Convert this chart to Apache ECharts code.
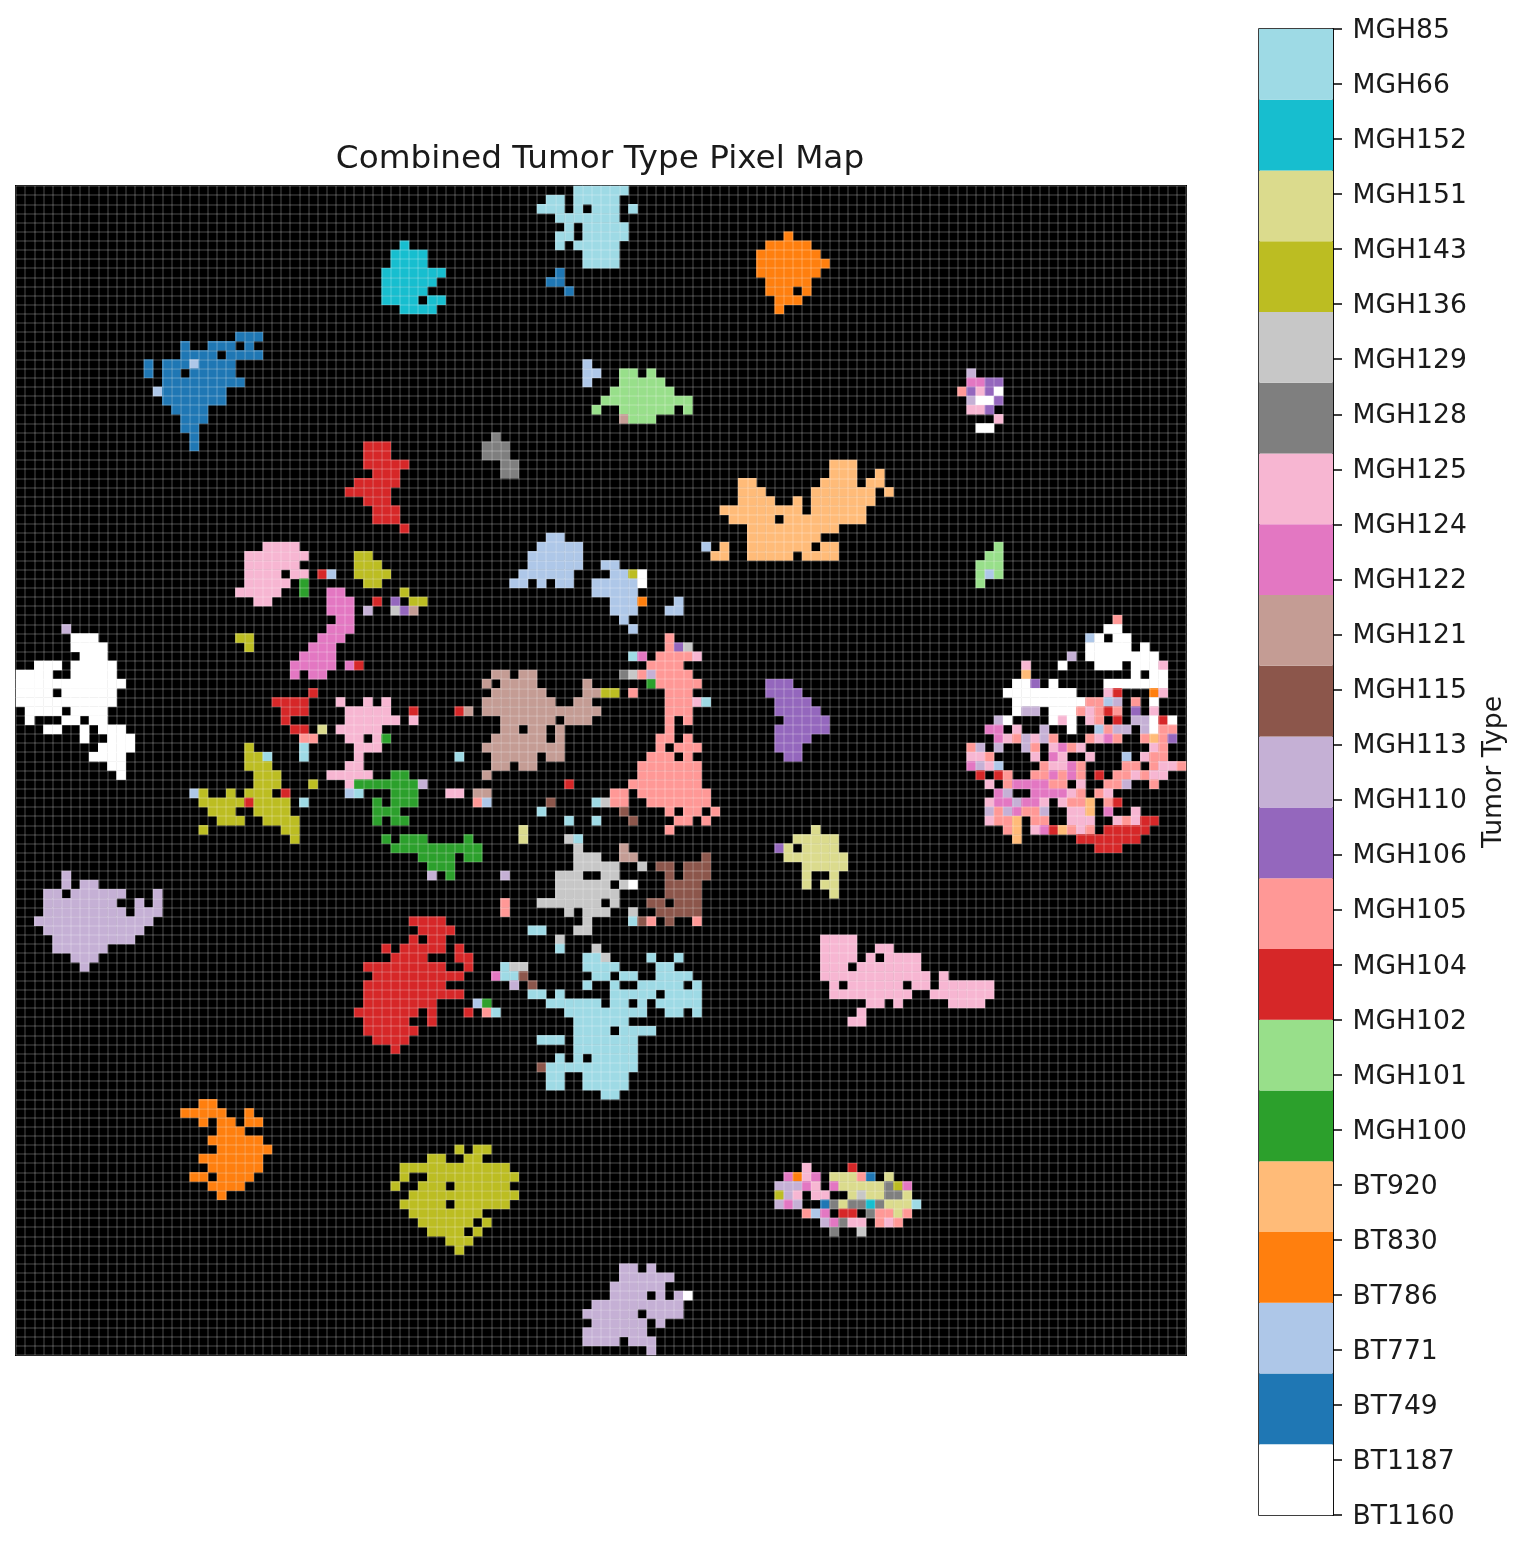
<!DOCTYPE html>
<html>
<head>
<meta charset="utf-8">
<title>Combined Tumor Type Pixel Map</title>
<style>
	html, body { margin: 0; padding: 0; background: #fff; }
	#pixelmap { width: 1518px; height: 1543px; }
</style>
<script src="https://cdn.jsdelivr.net/npm/echarts@6/dist/echarts.min.js"></script>
</head>
<body>
<div id="pixelmap"></div>
<script>
// colorbar ticks, bottom to top
var tickLabels = ['BT1160', 'BT1187', 'BT749', 'BT771', 'BT786', 'BT830', 'BT920', 'MGH100', 'MGH101', 'MGH102', 'MGH104', 'MGH105', 'MGH106', 'MGH110', 'MGH113', 'MGH115', 'MGH121', 'MGH122', 'MGH124', 'MGH125', 'MGH128', 'MGH129', 'MGH136', 'MGH143', 'MGH151', 'MGH152', 'MGH66', 'MGH85'];

// colour bands, bottom to top
var bandCodes = ['W', 'B', 'LB', 'O', 'LO', 'G', 'LG', 'R', 'S', 'P', 'LV', 'BR', 'TN', 'M', 'PK', 'GY', 'LY', 'OL', 'KH', 'T', 'LT'];
var bandColors = ['#ffffff', '#1f77b4', '#aec7e8', '#ff7f0e', '#ffbb78', '#2ca02c', '#98df8a', '#d62728', '#ff9896', '#9467bd', '#c5b0d5', '#8c564b', '#c49c94', '#e377c2', '#f7b6d2', '#7f7f7f', '#c7c7c7', '#bcbd22', '#dbdb8d', '#17becf', '#9edae5'];

// pixels: 'row CODEcols CODEcols', cols like 3-5,9
var clusterBlueTop = ['16 B24-26', '17 B18,21-23,25', '18 B18-21,23-26', '19 B14,16-18 LB19 B20-23', '20 B14,16-17,19-23', '21 B16-24', '22 LB15 B16-22', '23 B16-22', '24 B17-20', '25 B18-20', '26 B18-19', '27 B19', '28 B19'];
var clusterTealTop = ['6 T42', '7 T41-44', '8 T41-44', '9 T40-46', '10 T40-45', '11 T40-44', '12 T40-43,45-46', '13 T42-45'];
var clusterPaleTop = ['0 LT61-66', '1 LT58-59,61-65', '2 LT57-59,61,63-65,67', '3 LT59-65', '4 LT60,62-66', '5 LT59-60,62-66', '6 LT59,61-65', '7 LT62-65', '8 LT62-65', '9 B59', '10 B58-59', '11 B60'];
var clusterOrangeTop = ['5 O84', '6 O82-86', '7 O81-87', '8 O81-88', '9 O81-87', '10 O82-86', '11 O82-84,86', '12 O83-85', '13 O83'];
var clusterGreenTop = ['19 LB62', '20 LB62-63 LG66-67,69', '21 LB62 LG66-70', '22 LG65-71', '23 LG64-73', '24 LG63,66-71,73', '25 TN66 LG67-69'];
var clusterGrayTop = ['27 GY52', '28 GY51-53', '29 GY51-53', '30 GY53-54', '31 GY53-54'];
var clusterRedTop = ['28 R38-40', '29 R38-40', '30 R38-42', '31 R39-41', '32 R37-41', '33 R36-40', '34 R38-40', '35 R39-41', '36 R39-41', '37 R42'];
var clusterPeach = ['30 LO89-91', '31 LO89-91,94', '32 LO79-80,88-91,93-94', '33 LO79-81,87-93,95', '34 LO79-82,85,87-93', '35 LO77-85,87-92', '36 LO78-82,84-92', '37 LO80-89', '38 LO80-87', '39 LB75 LO77,80-86,88-89', '40 LO76-77,80-84,86-89'];
var clusterPurpleTiny = ['20 LV104', '21 M104-105 P106-107', '22 S103 P104 PK105 P106 W107', '23 LV104 W105-106 P107', '24 PK104-105 P106', '25 PK107', '26 W105-106'];
var clusterGreenTiny = ['39 LG107', '40 LG106-107', '41 LG105-107', '42 LG105 LB106 LG107', '43 LG105'];
var clusterMixedRight = [
	'47 S120', '48 W119-120', '49 LB117 W118,120-121', '50 W117-121,123', '51 LV115 W117-124',
	'52 PK110 W114,118-120,122-124 PK125', '53 LO110 W122,124-125', '54 W109-110 P111 W113,119-125',
	'55 W108-115 PK119 R120 O124 PK125', '56 W109-116 S117-118 LB119 LV120 S122 W124',
	'57 W109 LV110-111 W113-115 S116 PK117 S118 R119 S120 P122 PK124',
	'58 LV107 W108,113 PK114 W115 PK117 S118 R120 LV122-123 W124 R125 W126',
	'59 M106-107 PK109 LV112 W115 LB118 S119 LV120-121,123 W124 S125-126',
	'60 M107 PK108 S109 LV110 PK111 LV112 S113,117 PK118 M119 S120,123 LO124 S125 P126',
	'61 S104 LV105,107,110 S111 PK113 M114 S115 PK116,124 S125',
	'62 PK104-105 S106 PK111 M113 PK114,117 LB121 PK123 S124-125',
	'63 M104 LV105 PK106 LB107 S112 PK113-114 M115 S116,121-122,124 PK125-126 S127',
	'64 R105,107 S108,111-112 M113 S114 M115 S116 R118 S120-121 PK122 S123 PK124-125',
	'65 PK106 S108 M109-112 S113-114 PK116 S119-120 LV121 S124',
	'66 M107 LV108 M111-114 PK115 S116,118 PK119',
	'67 PK106 M107-108 LV109 M110-111 PK112,114 S115-116 LO117 S119 R120',
	'68 LV106 S107 LV108 M109 S110-111 LV112 PK115-116 LO117 M119 PK122',
	'69 PK106 S107-108 LO109 S111-112 PK115-117,120 S121 PK122 R123-124',
	'70 S108 LO109 PK111 M112 R113 LO114 S115 PK116 S117 R119-123',
	'71 LO109 R116-122', '72 R118-120'
];
var clusterWhiteLeft = ['48 LV5', '49 W6-8', '50 W6-9', '51 W7-9', '52 W2-4,6-10', '53 W0-3,6-10', '54 W0-11', '55 W0-3,5-10', '56 W0-10', '57 W1-4,6-9', '58 W1,5-6,8-9', '59 W3-4,7,9-11', '60 W7,10-12', '61 W9-12', '62 W8-11', '63 W10-11', '64 W11'];
var clusterPinkUpper = ['39 PK27-30', '40 PK25-31', '41 PK25-30', '42 PK25-28,30-31 R33 LB34', '43 PK25-29 G31', '44 PK24-28 G31', '45 PK26-27'];
var clusterOliveUpper = ['40 OL37-38', '41 OL37-39', '42 OL37-40', '43 OL38-39', '44 OL42', '45 R39 P41 OL43-44', '46 LV38 LY41 P42 TN43', '49 OL24-25', '50 OL25'];
var clusterMagenta = ['44 M34-35', '45 M34-36', '46 M34-36', '47 M35-36', '48 M34-36', '49 M33-35', '50 M32-34', '51 M31-34', '52 M30-34,36 R37', '53 M30,32-33'];
var clusterRedMid = ['55 R32', '56 R28-31', '57 R29-31', '58 R29', '59 R30-31 KH33', '60 S31-32', '61 LT31', '62 LT31'];
var clusterPinkMid = ['56 PK35,38,40', '57 PK36-40', '58 PK36-41', '59 PK35-39', '60 PK36-37,39 G40', '61 PK37-39', '62 PK37', '63 PK36-37', '64 PK34-38', '65 PK36', '66 LB36 LT37'];
var clusterGreenMid = ['64 G41-42', '65 G37-43 LV44', '66 G41-43', '67 G39,41-43', '68 G39-41', '69 G39,41-42', '71 G40,42-44,49', '72 G41-50', '73 G44-47,49-50', '74 G45-47', '75 LV45 G47'];
var clusterOliveMid = ['61 OL25', '62 OL25-26 LT27', '63 OL25-27', '64 OL26-28', '65 OL26-28,32', '66 LB19 OL20,23,25-27 R29', '67 OL20-24 R25 OL26-29 LT31', '68 OL21-23,26-29', '69 OL22-24,27-30', '70 OL20,29-30', '71 OL30'];
var clusterPaleBlueA = ['38 LB58-59', '39 LB57-61', '40 LB56-61', '41 LB56-61', '42 LB55-60', '43 LB54-55,57,59-60'];
var clusterPaleBlueB = ['41 LB64-65', '42 LB65-66 OL67 W68', '43 LB63-67 W68', '44 LB63-67', '45 LB65-67 O68 LB72', '46 LB65-67,71-72', '47 LB66', '48 LB67'];
var clusterSalmon = ['49 S71', '50 S71 P72 LY73', '51 LT67 M68 S70-73 PK74', '52 S69-72', '53 GY66 LY67 S68 LV69 S70-73', '54 G69 S70-74', '55 S67,71-73', '56 S71-73 PK74 LT75', '57 S71-73', '58 S71,73', '59 S71', '60 S70-71,73', '61 S70,72-74', '62 S69-71,73', '63 S68-74', '64 S68-74', '65 S67-74', '66 S65-66,68-75', '67 LT63 LY64 S65-66,69-75', '68 BR66 S71,73-74,76', '69 BR67 S72-73,75', '70 S71'];
var clusterTan = ['53 TN52-53,55-56', '54 TN51,53-56,62', '55 TN52-57,62-63 OL64-65', '56 TN51-58,61-62', '57 R43,48 TN49,51-63', '58 PK43 TN53-58,60-62', '59 TN53-54,56-57,59', '60 TN52-57,59', '61 TN51-59', '62 LT48 TN52-56,58-59', '63 TN52-53,55-56', '64 TN51', '65 R60', '66 PK47-48 TN50-51', '67 S50 LB51 BR58', '68 LT57', '69 LT60,63', '70 KH55', '71 KH55'];
var clusterPurpleMid = ['54 P82-84', '55 P82-85', '56 P83-86', '57 P83-87', '58 P84-88', '59 P83-88', '60 P83-86', '61 P83-85', '62 P84-85'];
var clusterKhaki = ['70 KH87', '71 KH85-89', '72 P83 KH84,86-89', '73 KH84-90', '74 KH86-90', '75 KH86,89', '76 KH86,88-89', '77 KH89'];
var clusterLightGray = ['71 LY60 LT61', '72 LY61 TN66', '73 LY61-63 TN66-67', '74 LY61-65,68', '75 LV53 LY59-61,64-65', '76 LY59-64,66 W67', '77 LY59-65', '78 S53 LY57-63,65', '79 S53 LY60,62-64,67', '80 LY62,67', '81 LT56-57 LY61-62', '82 LY59', '83 LT59 LY63'];
var clusterBrown = ['73 BR75', '74 BR70-71,73-75', '75 BR71,73-75', '76 BR71-74', '77 BR71-74', '78 BR69-70,72-74', '79 BR70-74', '80 LT67 BR68 S69 BR71 S74'];
var clusterPaleLarge = ['84 LT62-63 LY64 LT69,72', '85 LT53 LY54-55 LT62-65,70-71', '86 M52 LT53-54 BR55 LT63-64,66-67,70-73', '87 LV54 BR56 LT62,65,68-72,74', '88 LT56-57,59,65-69,71-74', '89 LB50 G51 LT58-63,65-66,68,70-74', '90 R49 S51 LT52,60-68,71-72,74', '91 LT61-66', '92 LT61-64,66-69', '93 LT57-59,61-67', '94 LT61-67', '95 LT59,61,63-67', '96 BR57 LT58-67', '97 LT58-59,62-66', '98 LT58-59,62-66', '99 LT64-65'];
var clusterRedLarge = ['80 R43-46', '81 R44-47', '82 R43,45-46', '83 R40,42-46,48', '84 R41-44,48-49', '85 R38-46,49', '86 R39-48', '87 R38-46', '88 R38-48', '89 R38-45', '90 R37-43,45', '91 R38-42,45', '92 R38-43', '93 R39-42', '94 R41'];
var clusterLavenderLeft = ['75 LV5', '76 LV5,7-8', '77 LV3-4,6-11,15', '78 LV3-10,13,15', '79 LV3-11,13-15', '80 LV2-14', '81 LV3-13', '82 LV4-12', '83 LV4-9', '84 LV6-8', '85 LV7'];
var clusterPinkRight = ['82 PK88-91', '83 PK88-91,94-95', '84 PK88-91,93,95-98', '85 PK88-90,92-98', '86 PK88-99,101', '87 PK89,91-96,98-99,101-106', '88 PK89-97,100-106', '89 PK93-94,96,102-105', '90 PK92', '91 PK91-92'];
var clusterOrangeLow = ['100 O20-21', '101 O18-22,25', '102 O20,22-23,25-26', '103 O22-24', '104 O21-26', '105 O22-27', '106 O20-26', '107 O21-26', '108 O19-20,22-25', '109 O21-24', '110 O22'];
var clusterOliveLow = ['105 OL48,50-51', '106 OL45-46,49-50', '107 OL42-53', '108 OL42,45-54', '109 OL41,44-46,48-53', '110 OL43-54', '111 OL42-46,48-53', '112 OL43-50', '113 OL44-49,51', '114 OL45-48,50', '115 OL47-49', '116 OL48'];
var clusterLavenderLow = ['118 LV66-67,69', '119 LV66-71', '120 LV65-70', '121 LV65-68,70,72 W73', '122 LV63-72', '123 LV62-67,69-72', '124 LV63-68,70', '125 LV62-68', '126 LV62-65,67-69', '127 LV69'];
var clusterMixedLow = [
	'107 PK86 R91', '108 M84 O85 PK86 M87 KH89-91 S92 B93 KH95',
	'109 LV83-85 M86 PK87 M89 KH90-94 GY95 OL96 M97',
	'110 OL83 LV84 PK85,87-88 KH91 LY92 KH93-94 GY95-96 KH97',
	'111 LV83 M84 LV85 B88 GY89 KH90 GY91-92 T93 GY94 KH95-97 LT98',
	'112 S86 LB87 M88 R90-91 GY93 S94-95 KH96 S97',
	'113 LV88 M89 GY90 PK91-92 S94 PK95 S96', '114 GY89 LY92'
];

var allClusters = [clusterBlueTop, clusterTealTop, clusterPaleTop, clusterOrangeTop, clusterGreenTop, clusterGrayTop, clusterRedTop, clusterPeach, clusterPurpleTiny, clusterGreenTiny, clusterMixedRight, clusterWhiteLeft, clusterPinkUpper, clusterOliveUpper, clusterMagenta, clusterRedMid, clusterPinkMid, clusterGreenMid, clusterOliveMid, clusterPaleBlueA, clusterPaleBlueB, clusterSalmon, clusterTan, clusterPurpleMid, clusterKhaki, clusterLightGray, clusterBrown, clusterPaleLarge, clusterRedLarge, clusterLavenderLeft, clusterPinkRight, clusterOrangeLow, clusterOliveLow, clusterLavenderLow, clusterMixedLow];

var gridSize = 128;

function readCells(clusters) {
	var cells = [];
	clusters.forEach(function(cluster) {
		cluster.forEach(function(line) {
			var parts = line.split(' ');
			var row = +parts[0];
			parts.slice(1).forEach(function(token) {
				var m = token.match(/^([A-Z]+)(.+)$/);
				var band = bandCodes.indexOf(m[1]);
				m[2].split(',').forEach(function(range) {
					var ends = range.split('-');
					var to = +(ends[1] || ends[0]);
					for (var col = +ends[0]; col <= to; col++) {
						cells.push([col, row, band]);
					}
				});
			});
		});
	});
	return cells;
}

var gridIndexes = [];
for (var i = 0; i < gridSize; i++) {
	gridIndexes.push(i);
}

var gridLine = {
	show: true,
	interval: 0,
	lineStyle: { color: 'rgba(255, 255, 255, 0.15)', width: 2 }
};

var bandSpan = (tickLabels.length - 1) / bandColors.length;
var colorbarSeries = bandColors.map(function(color) {
	return {
		type: 'bar',
		stack: 'bands',
		xAxisIndex: 1,
		yAxisIndex: 1,
		barWidth: '100%',
		silent: true,
		itemStyle: { color: color },
		data: [bandSpan]
	};
});

var option = {
	animation: false,
	title: {
		text: 'Combined Tumor Type Pixel Map',
		left: 595,
		top: 138,
		textAlign: 'center',
		textStyle: { fontFamily: 'DejaVu Sans', fontSize: 32.7, fontWeight: 'normal', color: '#1a1a1a' }
	},
	grid: [
		{ left: 16, top: 186, width: 1170, height: 1169, show: true, backgroundColor: '#000', borderColor: '#000', borderWidth: 2 },
		{ left: 1259, top: 29, width: 74, height: 1486, show: true, backgroundColor: 'transparent', borderColor: '#000', borderWidth: 1.5 }
	],
	xAxis: [
		{ type: 'category', gridIndex: 0, data: gridIndexes, z: 5, axisLine: { show: false }, axisTick: { show: false }, axisLabel: { show: false }, splitLine: gridLine },
		{ type: 'category', gridIndex: 1, data: ['bar'], show: false }
	],
	yAxis: [
		{ type: 'category', gridIndex: 0, data: gridIndexes, inverse: true, z: 5, axisLine: { show: false }, axisTick: { show: false }, axisLabel: { show: false }, splitLine: gridLine },
		{
			type: 'value',
			gridIndex: 1,
			position: 'right',
			min: 0,
			max: tickLabels.length - 1,
			interval: 1,
			name: 'Tumor Type',
			nameLocation: 'middle',
			nameGap: 148,
			nameTextStyle: { fontFamily: 'DejaVu Sans', fontSize: 26.7, color: '#1a1a1a' },
			splitLine: { show: false },
			axisLine: { show: true, lineStyle: { color: '#000', width: 1.5 } },
			axisTick: { show: true, length: 9, lineStyle: { color: '#000', width: 1.5 } },
			axisLabel: {
				margin: 19.5,
				formatter: function(value) { return '{tick|' + tickLabels[value] + '}'; },
				rich: {
					tick: { fontFamily: 'DejaVu Sans', fontSize: 26.6, color: '#1a1a1a', padding: [4, 0, 0, 0] }
				}
			}
		}
	],
	visualMap: {
		show: false,
		type: 'piecewise',
		seriesIndex: 0,
		dimension: 2,
		pieces: bandColors.map(function(color, index) {
			return { value: index, color: color };
		})
	},
	series: [
		{
			type: 'heatmap',
			xAxisIndex: 0,
			yAxisIndex: 0,
			silent: true,
			data: readCells(allClusters)
		}
	].concat(colorbarSeries)
};

var chart = echarts.init(document.getElementById('pixelmap'));
chart.setOption(option);
</script>
</body>
</html>
